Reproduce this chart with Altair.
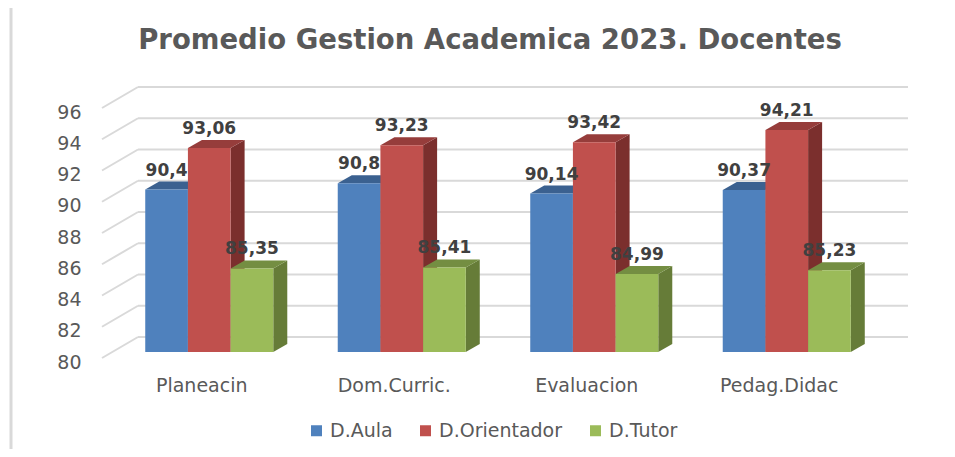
import json
import altair as alt
import pandas as pd

# ---------------- data ----------------
categories = ["Planeacin", "Dom.Curric.", "Evaluacion", "Pedag.Didac"]
series = ["D.Aula", "D.Orientador", "D.Tutor"]
d_aula = [90.4, 90.8, 90.14, 90.37]
d_orientador = [93.06, 93.23, 93.42, 94.21]
d_tutor = [85.35, 85.41, 84.99, 85.23]
y_ticks = [80, 82, 84, 86, 88, 90, 92, 94, 96]
title_text = "Promedio Gestion Academica 2023. Docentes"

# ---------------- styles / layout ----------------
front_colors = ["#4F81BD", "#C0504D", "#9BBB59"]
top_colors = ["#3B6190", "#963D3B", "#748E42"]
side_colors = ["#2F4D73", "#7B2F2D", "#667C38"]
grid_color = "#D9D9D9"
text_color = "#595959"
label_color = "#404040"
FONT = "DejaVu Sans"

W, H = 770, 250
Y0, Y1 = 80, 96
N = len(categories)
GROUP_PAD = 0.1675          # gap before first bar inside a category band (band units)
BAR_W = 0.2217              # bar width (band units)
DEPTH_PX = (14, 8)          # bar depth projection in pixels (right, up)
dxu = DEPTH_PX[0] * N / W
dyu = DEPTH_PX[1] * (Y1 - Y0) / H
FRONT_OFF = (-11, 6)        # wall front edge relative to bar plane (px)
BACK_OFF = (25, -15)        # back wall relative to bar plane (px)

values = [d_aula, d_orientador, d_tutor]

bars, sides, tops = [], [], []
for i, c in enumerate(categories):
    for j, s in enumerate(series):
        v = values[j][i]
        x0 = i + GROUP_PAD + j * BAR_W
        x1 = x0 + BAR_W
        bid = f"{i}-{j}"
        lab = f"{v:.2f}".rstrip("0").rstrip(".").replace(".", ",")
        bars.append(dict(id=bid, cat=c, series=s, x0=x0, x1=x1, xm=(x0 + x1) / 2,
                         v=v, base=Y0, label=lab))
        sides.append(dict(id=bid, series=s, x=x1, lo=Y0, hi=v))
        sides.append(dict(id=bid, series=s, x=x1 + dxu, lo=Y0 + dyu, hi=v + dyu))
        tops.append(dict(id=bid, series=s, y=v, xl=x0, xr=x1))
        tops.append(dict(id=bid, series=s, y=v + dyu, xl=x0 + dxu, xr=x1 + dxu))

bars_df = pd.DataFrame(bars)
sides_df = pd.DataFrame(sides)
tops_df = pd.DataFrame(tops)
grid_df = pd.DataFrame({"v": y_ticks, "xs": [0] * len(y_ticks), "xe": [N] * len(y_ticks)})

xs = alt.Scale(domain=[0, N], nice=False, zero=False)
ys = alt.Scale(domain=[Y0, Y1], nice=False, zero=False)

label_expr = json.dumps(categories) + "[floor(datum.value)]"

x_axis = alt.Axis(values=[i + 0.5 for i in range(N)], labelExpr=label_expr, title=None,
                  domain=False, ticks=False, tickSize=0, grid=False, labelPadding=24,
                  labelOffset=-8, labelFont=FONT, labelFontSize=19, labelColor=text_color)
y_axis = alt.Axis(values=y_ticks, title=None, domain=False, ticks=False, tickSize=0,
                  grid=False, labelPadding=32, labelOffset=10, labelFont=FONT,
                  labelFontSize=19, labelColor=text_color, labelBaseline="middle")


def X(field):
    return alt.X(field, scale=xs, axis=x_axis)


def Y(field):
    return alt.Y(field, scale=ys, axis=y_axis)


# frame line at the left edge (decoration)
frame = alt.Chart(pd.DataFrame({"a": [0]})).mark_rule(color="#D9D9D9", strokeWidth=3).encode(
    x=alt.value(-102), y=alt.value(-94), y2=alt.value(347))

grid_back = alt.Chart(grid_df).mark_rule(
    color=grid_color, strokeWidth=2,
    xOffset=BACK_OFF[0], x2Offset=BACK_OFF[0], yOffset=BACK_OFF[1], y2Offset=BACK_OFF[1]
).encode(x=X("xs:Q"), x2="xe:Q", y=Y("v:Q"))

grid_side = alt.Chart(grid_df).mark_rule(
    color=grid_color, strokeWidth=2,
    xOffset=FRONT_OFF[0], x2Offset=BACK_OFF[0], yOffset=FRONT_OFF[1], y2Offset=BACK_OFF[1]
).encode(x=X("xs:Q"), x2="xs:Q", y=Y("v:Q"), y2="v:Q")

side_faces = alt.Chart(sides_df).mark_area(orient="vertical", opacity=1).encode(
    x=X("x:Q"), y=Y("hi:Q"), y2="lo:Q", detail="id:N",
    color=alt.Color("series:N", scale=alt.Scale(domain=series, range=side_colors), legend=None),
)

top_faces = alt.Chart(tops_df).mark_area(orient="horizontal", opacity=1).encode(
    y=Y("y:Q"), x=X("xl:Q"), x2="xr:Q", detail="id:N",
    color=alt.Color("series:N", scale=alt.Scale(domain=series, range=top_colors), legend=None),
)

fronts = alt.Chart(bars_df).mark_bar(opacity=1).encode(
    x=X("x0:Q"), x2="x1:Q", y=Y("v:Q"), y2="base:Q",
    color=alt.Color("series:N", scale=alt.Scale(domain=series, range=front_colors),
                    legend=alt.Legend(title=None, orient="none", legendX=194, legendY=319,
                                      direction="horizontal", symbolType="square",
                                      symbolSize=121, symbolStrokeWidth=0,
                                      labelFont=FONT, labelFontSize=19,
                                      labelColor=text_color, labelOffset=4,
                                      columnPadding=23)),
)

labels = alt.Chart(bars_df).mark_text(
    font=FONT, fontWeight="bold", fontSize=17, color=label_color,
    baseline="alphabetic", dy=-14
).encode(x=X("xm:Q"), y=Y("v:Q"), text="label:N")

chart = alt.layer(
    frame, grid_back, grid_side, side_faces, top_faces, fronts, labels
).resolve_scale(color="independent").properties(
    width=W, height=H,
    background="white",
    title=alt.Title(title_text, font=FONT, fontSize=27.5, fontWeight="bold", color=text_color,
                    anchor="middle", offset=-48, dx=-8),
    autosize=alt.AutoSizeParams(type="none"),
    padding={"left": 105, "top": 94, "right": 64, "bottom": 97},
).configure_view(strokeWidth=0, stroke="transparent")

chart.save("out.html", embed_options={"renderer": "svg", "actions": False})
